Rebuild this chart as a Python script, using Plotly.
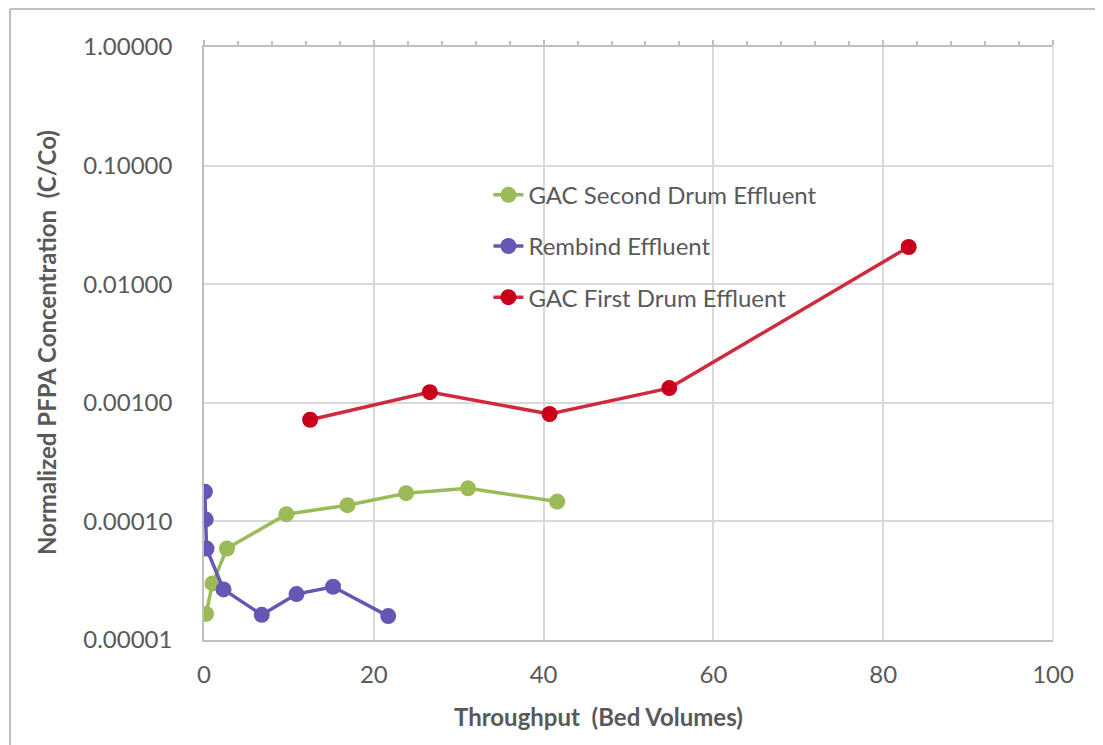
import plotly.graph_objects as go

# Data
green_name = "GAC Second Drum Effluent"
green_x = [0.24, 1.0, 2.7, 9.7, 16.9, 23.8, 31.1, 41.6]
green_y = [1.66e-5, 3.0e-5, 5.9e-5, 1.15e-4, 1.37e-4, 1.73e-4, 1.90e-4, 1.47e-4]

purple_name = "Rembind Effluent"
purple_x = [0.1, 0.2, 0.3, 2.3, 6.8, 10.9, 15.2, 21.7]
purple_y = [1.78e-4, 1.04e-4, 5.9e-5, 2.67e-5, 1.63e-5, 2.44e-5, 2.81e-5, 1.59e-5]

red_name = "GAC First Drum Effluent"
red_x = [12.5, 26.6, 40.7, 54.8, 83.0]
red_y = [7.2e-4, 1.23e-3, 8.05e-4, 1.33e-3, 2.06e-2]

x_ticks = [0, 20, 40, 60, 80, 100]
y_ticks = [1e-5, 1e-4, 1e-3, 1e-2, 1e-1, 1]
y_tick_text = ["0.00001", "0.00010", "0.00100", "0.01000", "0.10000", "1.00000"]

FONT = "Lato, 'Open Sans', sans-serif"
TXT = "#595959"
GRID = "#d9d9d9"
AX = "#bfbfbf"

# page body has an 8px margin, so the figure is sized to fill the rest of the window
W, H = 1095, 737
L, T, R, B = 196, 39, 50, 105
PW = W - L - R
PH = H - T - B

fig = go.Figure()
fig.add_trace(go.Scatter(x=green_x, y=green_y, name=green_name, mode="lines+markers",
                         line=dict(color="#9bbb59", width=3.5),
                         marker=dict(color="#9bbb59", size=16), legendgroup="g1"))
fig.add_trace(go.Scatter(x=purple_x, y=purple_y, name=purple_name, mode="lines+markers",
                         line=dict(color="#6657b5", width=3.5),
                         marker=dict(color="#6657b5", size=16), legendgroup="g2"))
fig.add_trace(go.Scatter(x=red_x, y=red_y, name=red_name, mode="lines+markers",
                         line=dict(color="#cf2a3e", width=3.5),
                         marker=dict(color="#c8001a", size=16), legendgroup="g3"))
# empty trace so the top tick axis gets drawn
fig.add_trace(go.Scatter(x=[None], y=[None], xaxis="x2", showlegend=False, hoverinfo="skip"))

fig.update_layout(
    width=W, height=H,
    margin=dict(l=L, r=R, t=T, b=B),
    paper_bgcolor="white", plot_bgcolor="white",
    font=dict(family=FONT, size=24, color=TXT),
    showlegend=True,
    legend=dict(x=0.335, y=0.788, xanchor="left", yanchor="top",
                bgcolor="rgba(0,0,0,0)", font=dict(size=24, color=TXT),
                traceorder="grouped", tracegroupgap=17),
    xaxis=dict(range=[0, 100], tickvals=x_ticks, showgrid=True, gridcolor=GRID, gridwidth=1.5,
               showline=True, linecolor=AX, linewidth=1.5, ticks="",
               zeroline=False, tickfont=dict(size=24, color=TXT), ticklabelstandoff=12),
    xaxis2=dict(range=[0, 100], overlaying="x", side="top", anchor="y", showline=True,
                linecolor=AX, linewidth=1.5, ticks="outside", ticklen=5,
                tickcolor=AX, tickwidth=1.5, dtick=20, tick0=0,
                minor=dict(dtick=4, ticks="outside", ticklen=4, tickcolor=AX),
                showticklabels=False, showgrid=False, zeroline=False),
    yaxis=dict(type="log", range=[-5, 0], tickvals=y_ticks, ticktext=y_tick_text,
               showgrid=True, gridcolor=GRID, gridwidth=1.5, showline=True,
               linecolor=AX, linewidth=1.5, ticks="", zeroline=False,
               tickfont=dict(size=24, color=TXT), ticklabelstandoff=25),
)

fig.add_shape(type="line", xref="paper", yref="paper", x0=1, x1=1, y0=0, y1=1,
              line=dict(color=GRID, width=1.5))

# Axis titles (positions in page pixels converted to paper coords)
def px(xp):
    return (xp - 8 - L) / PW

def py(yp):
    return 1 - (yp - 8 - T) / PH

fig.add_annotation(text="<b>Throughput  (Bed Volumes)</b>", xref="paper", yref="paper",
                   x=px(598), y=py(716), showarrow=False,
                   xanchor="center", yanchor="middle", font=dict(size=24, color=TXT))
fig.add_annotation(text="<b>Normalized PFPA Concentration  (C/Co)</b>", xref="paper", yref="paper",
                   x=px(46), y=py(343), showarrow=False, textangle=-90,
                   xanchor="center", yanchor="middle", font=dict(size=24, color=TXT))

# Chart area border (left and top edges visible)
fig.add_shape(type="line", xref="paper", yref="paper", x0=px(10), x1=px(10),
              y0=py(9), y1=py(760), line=dict(color=AX, width=2))
fig.add_shape(type="line", xref="paper", yref="paper", x0=px(10), x1=px(1120),
              y0=py(9), y1=py(9), line=dict(color=AX, width=2))

fig.write_html("out.html")
